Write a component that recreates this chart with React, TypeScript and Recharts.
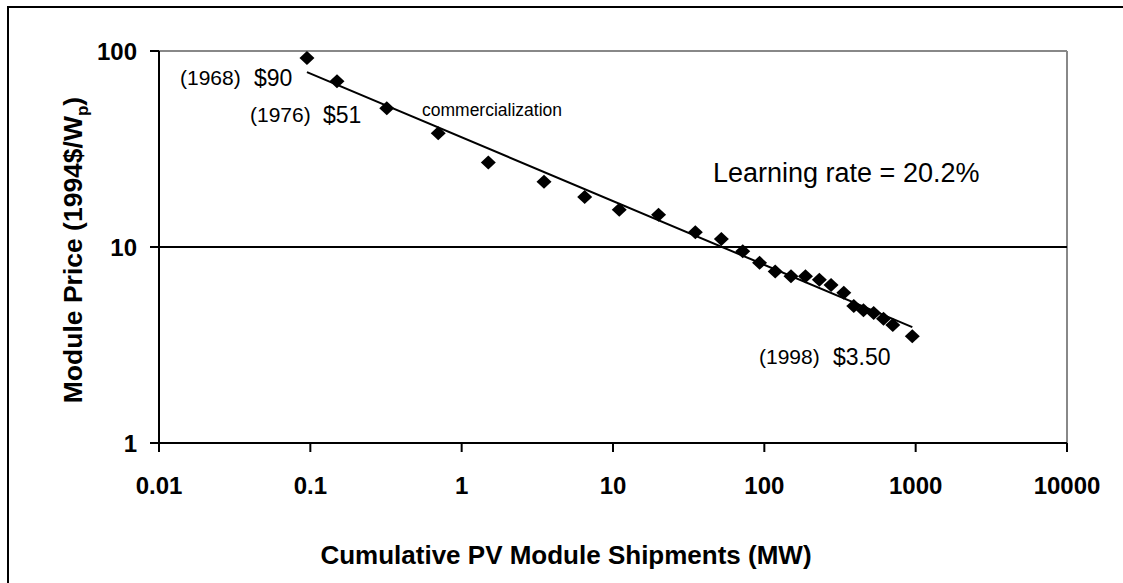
import React from "react";
import {
  ScatterChart,
  Scatter,
  XAxis,
  YAxis,
  ReferenceLine,
} from "recharts";

// cumulative shipments (MW) and module price (1994$/Wp)
const shipments = [0.095, 0.15, 0.32, 0.7, 1.5, 3.5, 6.5, 11, 20, 35, 52, 72, 93, 118, 150, 187, 231, 276, 335, 390, 452, 528, 613, 706, 950];
const prices = [92, 70, 51, 38, 27, 21.5, 18, 15.5, 14.6, 11.9, 11, 9.5, 8.3, 7.5, 7.1, 7.1, 6.8, 6.4, 5.85, 5.0, 4.75, 4.6, 4.3, 4.0, 3.5];

// fitted experience curve endpoints
const trendShipments = [0.095, 950];
const trendPrices = [78, 3.9];

const xTicks = [0.01, 0.1, 1, 10, 100, 1000, 10000];
const yTicks = [1, 10, 100];

const points = shipments.map((x, i) => ({ x, y: prices[i] }));
const trend = trendShipments.map((x, i) => ({ x, y: trendPrices[i] }));

const FONT = "'Liberation Sans', Arial, Helvetica, sans-serif";

const Diamond = (props: any) => {
  const { cx, cy } = props;
  if (cx == null || cy == null) return <g />;
  return (
    <polygon
      points={`${cx},${cy - 7} ${cx + 7.5},${cy} ${cx},${cy + 7} ${cx - 7.5},${cy}`}
      fill="#000"
    />
  );
};

const NoDot = () => <g />;

export default function App() {
  return (
    <div
      style={{
        position: "fixed",
        left: 0,
        top: 0,
        width: 1123,
        height: 583,
        overflow: "hidden",
        background: "#fff",
      }}
    >
      {/* outer frame, only top and left edges are visible */}
      <div
        style={{
          position: "absolute",
          left: 7,
          top: 6,
          width: 1300,
          height: 800,
          borderTop: "2px solid #000",
          borderLeft: "2px solid #000",
        }}
      />
      <div style={{ position: "absolute", left: 0, top: 0 }}>
        <ScatterChart
          width={1123}
          height={583}
          margin={{ top: 51, right: 56, bottom: 0, left: 0 }}
        >
          <XAxis
            type="number"
            dataKey="x"
            scale="log"
            domain={[0.01, 10000]}
            ticks={xTicks}
            allowDataOverflow
            height={140}
            axisLine={{ stroke: "#000", strokeWidth: 2 }}
            tickLine={{ stroke: "#000", strokeWidth: 2 }}
            tickSize={9}
            tickMargin={25}
            tick={{ fill: "#000", fontSize: 24, fontWeight: "bold", fontFamily: FONT }}
          />
          <YAxis
            type="number"
            dataKey="y"
            scale="log"
            domain={[1, 100]}
            ticks={yTicks}
            allowDataOverflow
            width={159}
            axisLine={{ stroke: "#000", strokeWidth: 2 }}
            tickLine={{ stroke: "#000", strokeWidth: 2 }}
            tickSize={9}
            tickMargin={13}
            tick={{ fill: "#000", fontSize: 24, fontWeight: "bold", fontFamily: FONT }}
          />
          <ReferenceLine y={100} stroke="#888" strokeWidth={2} />
          <ReferenceLine x={10000} stroke="#888" strokeWidth={2} />
          <ReferenceLine y={10} stroke="#000" strokeWidth={2} />
          <Scatter
            data={trend}
            line={{ stroke: "#000", strokeWidth: 2 }}
            shape={NoDot}
            isAnimationActive={false}
          />
          <Scatter data={points} shape={Diamond} isAnimationActive={false} />
        </ScatterChart>
      </div>
      {/* annotations and axis titles */}
      <svg
        width={1123}
        height={583}
        style={{ position: "absolute", left: 0, top: 0, pointerEvents: "none" }}
        fontFamily={FONT}
      >
        <text x={180} y={85} fontSize={21} fill="#000">(1968)</text>
        <text x={254} y={86} fontSize={23} fill="#000">$90</text>
        <text x={250} y={122} fontSize={21} fill="#000">(1976)</text>
        <text x={323} y={123} fontSize={23} fill="#000">$51</text>
        <text x={422} y={116} fontSize={17.5} fill="#000">commercialization</text>
        <text x={713} y={182} fontSize={27} fill="#000">Learning rate = 20.2%</text>
        <text x={759} y={364} fontSize={21} fill="#000">(1998)</text>
        <text x={833} y={365} fontSize={23} fill="#000">$3.50</text>
        <text
          x={566}
          y={564}
          fontSize={26}
          fontWeight="bold"
          textAnchor="middle"
          fill="#000"
        >
          Cumulative PV Module Shipments (MW)
        </text>
        <text
          transform="translate(82,250) rotate(-90)"
          fontSize={26.5}
          fontWeight="bold"
          textAnchor="middle"
          fill="#000"
        >
          Module Price (1994$/W<tspan fontSize={17} dy={6}>p</tspan>
          <tspan dy={-6}>)</tspan>
        </text>
      </svg>
    </div>
  );
}
